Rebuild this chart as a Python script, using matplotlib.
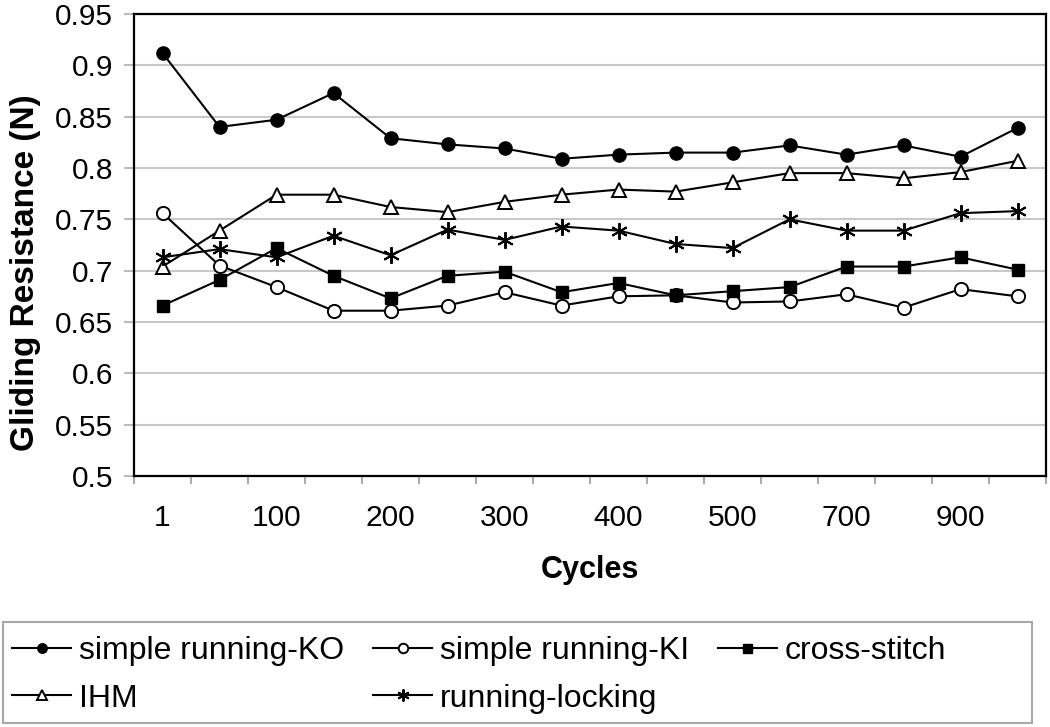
import numpy as np
import matplotlib
matplotlib.use('Agg')
import matplotlib.pyplot as plt
from matplotlib.patches import Rectangle

plt.rcParams['font.family'] = ['Liberation Sans', 'DejaVu Sans']

# %% data
cycles = ['1', '50', '100', '150', '200', '250', '300', '350', '400', '450',
          '500', '600', '700', '800', '900', '1000']
ko = [0.912, 0.840, 0.847, 0.873, 0.829, 0.823, 0.819, 0.809,
      0.813, 0.815, 0.815, 0.822, 0.813, 0.822, 0.811, 0.839]
ki = [0.756, 0.705, 0.684, 0.661, 0.661, 0.666, 0.679, 0.666,
      0.675, 0.676, 0.669, 0.670, 0.677, 0.664, 0.682, 0.675]
cross = [0.666, 0.691, 0.722, 0.695, 0.673, 0.695, 0.699, 0.679,
         0.688, 0.676, 0.680, 0.684, 0.704, 0.704, 0.713, 0.701]
ihm = [0.704, 0.739, 0.774, 0.774, 0.762, 0.757, 0.767, 0.774,
       0.779, 0.777, 0.786, 0.795, 0.795, 0.790, 0.796, 0.807]
locking = [0.713, 0.721, 0.713, 0.734, 0.715, 0.740, 0.730, 0.743,
           0.739, 0.726, 0.722, 0.750, 0.739, 0.739, 0.756, 0.758]
yticks = [0.5, 0.55, 0.6, 0.65, 0.7, 0.75, 0.8, 0.85, 0.9, 0.95]

x = np.arange(len(cycles))

# %% figure
fig = plt.figure(figsize=(10.5, 7.27), dpi=100)
ax = fig.add_axes([134/1050, 1 - 476/727, 912/1050, 462/727])

lw = 1.5
h_ko, = ax.plot(x, ko, '-o', color='black', lw=lw, ms=9.5, mfc='black', mec='black',
                label='simple running-KO', zorder=5)
h_ki, = ax.plot(x, ki, '-o', color='black', lw=lw, ms=9.5, mfc='white', mec='black',
                mew=1.4, label='simple running-KI', zorder=5)
h_cr, = ax.plot(x, cross, '-s', color='black', lw=lw, ms=9, mfc='black', mec='black',
                label='cross-stitch', zorder=5)
h_ihm, = ax.plot(x, ihm, '-^', color='black', lw=lw, ms=10.5, mfc='white', mec='black',
                 mew=1.4, label='IHM', zorder=5)
h_rl, = ax.plot(x, locking, '-', color='black', lw=lw, marker=(6, 2, 0), ms=12,
                mec='black', mew=1.4, label='running-locking', zorder=5)

ax.set_xlim(-0.5, len(cycles) - 0.5)
ax.set_ylim(0.5, 0.95)
ax.set_yticks(yticks)
ax.set_yticklabels([f'{v:g}' for v in yticks])
ax.set_xticks(x[::2])
ax.set_xticklabels(cycles[::2])
ax.set_xticks(np.arange(-0.5, len(cycles), 1), minor=True)

ax.tick_params(axis='x', which='major', length=0, pad=20, labelsize=21.5)
ax.tick_params(axis='x', which='minor', length=6, width=1.2, color='#999999')
ax.tick_params(axis='y', which='major', length=7, width=1.5, color='#bbbbbb',
               pad=8, labelsize=21.5)

ax.grid(axis='y', color='#c8c8c8', lw=1.5)
ax.set_axisbelow(True)
for s in ax.spines.values():
    s.set_color('black')
    s.set_linewidth(1.6)

ax.set_xlabel('Cycles', fontsize=22, fontweight='bold', labelpad=17)
ax.set_ylabel('Gliding Resistance (N)', fontsize=24, fontweight='bold', labelpad=10)
ax.yaxis.label.set_y(0.44)

# legend frame spans the whole width like the spreadsheet one
fig.patches.append(Rectangle((3/1050, 1 - 723/727), 1029/1050, 101/727,
                             transform=fig.transFigure, fill=False,
                             edgecolor='#a8a8a8', lw=1.5))
fig.legend([h_ko, h_ihm, h_ki, h_rl, h_cr],
           ['simple running-KO', 'IHM', 'simple running-KI', 'running-locking', 'cross-stitch'],
           ncol=3, loc='upper left', bbox_to_anchor=(12/1050, 1 - 636/727),
           frameon=False, fontsize=23, markerscale=0.72, handlelength=1.85,
           handletextpad=0.25, columnspacing=0.9, labelspacing=0.55,
           borderpad=0, borderaxespad=0)

plt.savefig('out.png', dpi=100)
